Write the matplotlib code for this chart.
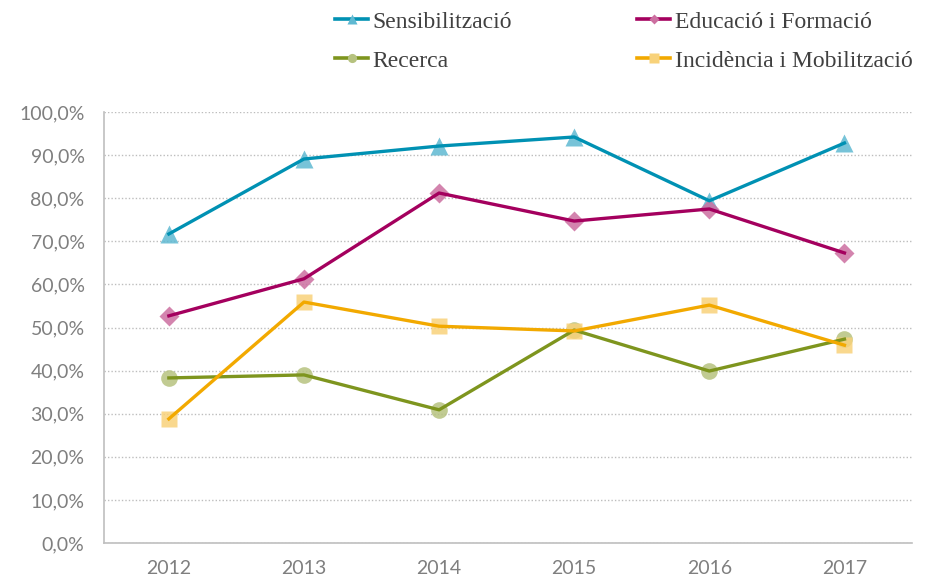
import numpy as np
import matplotlib
matplotlib.use("Agg")
import matplotlib.pyplot as plt
from matplotlib.lines import Line2D

years = ["2012", "2013", "2014", "2015", "2016", "2017"]
sensibilitzacio = [71.7, 89.1, 92.1, 94.2, 79.4, 92.8]
educacio = [52.7, 61.3, 81.2, 74.7, 77.5, 67.3]
recerca = [38.3, 39.0, 30.9, 49.4, 39.9, 47.3]
incidencia = [28.8, 55.9, 50.3, 49.2, 55.2, 45.9]

series = [
    ("Sensibilització", sensibilitzacio, "#0091B3", "#5FB9D2", "^", 13),
    ("Educació i Formació", educacio, "#A4005E", "#CC6FA0", "D", 10),
    ("Recerca", recerca, "#7E951E", "#B6C27F", "o", 12),
    ("Incidència i Mobilització", incidencia, "#F2A900", "#F8D27A", "s", 12),
]

fig = plt.figure(figsize=(9.28, 5.78), dpi=100)
ax = fig.add_axes([104/928, 1 - 543/578, (912 - 104)/928, (543 - 112)/578])

x = np.arange(len(years))
handles = []
for name, vals, lc, mc, mk, ms in series:
    # markers drawn first, semi-transparent, the line goes on top
    ax.plot(x, vals, linestyle="none", marker=mk, markersize=ms,
            markerfacecolor=mc, markeredgecolor="none", alpha=0.85, zorder=3)
    ax.plot(x, vals, color=lc, linewidth=2.4, zorder=4)
    handles.append(Line2D([0], [0], color=lc, linewidth=2.6, marker=mk,
                          markersize=ms * 0.55, markerfacecolor=mc,
                          markeredgecolor="none", label=name))

ax.set_xlim(-0.48, 5.5)
ax.set_ylim(0, 100)
ax.set_yticks(np.arange(0, 101, 10))
ax.set_yticklabels(["%d,0%%" % v for v in range(0, 101, 10)])
ax.set_xticks(x)
ax.set_xticklabels(years)

ax.grid(axis="y", color="#BDBDBD", linestyle=(0, (1, 1.5)), linewidth=1.0)
ax.set_axisbelow(True)
for s in ["top", "right"]:
    ax.spines[s].set_visible(False)
for s in ["left", "bottom"]:
    ax.spines[s].set_color("#BFBFBF")
    ax.spines[s].set_linewidth(1.2)
ax.tick_params(length=0, colors="#7F7F7F", labelsize=14)
ax.tick_params(axis="x", pad=12)
ax.tick_params(axis="y", pad=14)
for lab in ax.get_xticklabels() + ax.get_yticklabels():
    lab.set_fontfamily("Lato")

# row order: Sensibilització, Educació / Recerca, Incidència
order = [0, 2, 1, 3]
leg = fig.legend(handles=[handles[i] for i in order], loc="upper left",
                 bbox_to_anchor=(335/928, 0.981), borderaxespad=0, borderpad=0,
                 ncol=2, frameon=False, handlelength=1.4, handletextpad=0.2,
                 columnspacing=5.3, labelspacing=0.75,
                 prop={"family": "Liberation Serif", "size": 17})
for t in leg.get_texts():
    t.set_color("#404040")

fig.savefig("out.png", dpi=100)
